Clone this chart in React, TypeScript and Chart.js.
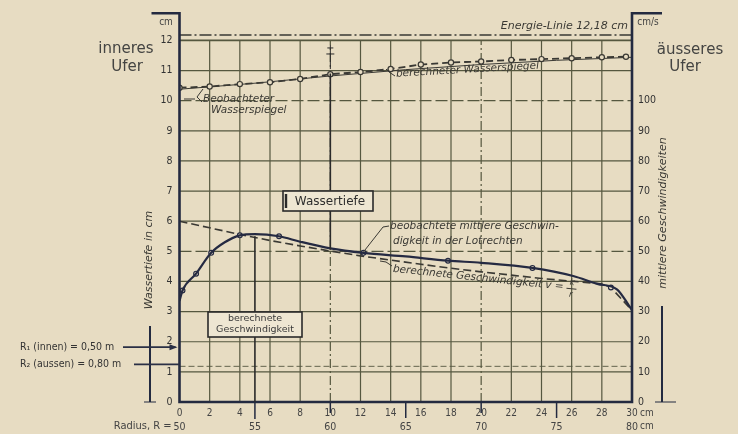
import React, { useEffect, useRef } from "react";
import { Chart, registerables } from "chart.js";

Chart.register(...registerables);

// ---------- data ----------
const xTickValues = [0, 2, 4, 6, 8, 10, 12, 14, 16, 18, 20, 22, 24, 26, 28, 30];
const radiusTickValues = [0, 5, 10, 15, 20, 25, 30];
const radiusTickLabels = ["50", "55", "60", "65", "70", "75", "80"];
const depthTickMax = 12;
const velocityTickMax = 100;

// observed water surface (cm)
const surfObsX = [0, 2, 4, 6, 8, 10, 12, 14, 16, 18, 20, 22, 24, 26, 28, 29.6];
const surfObsY = [10.43, 10.47, 10.55, 10.61, 10.72, 10.88, 10.95, 11.05, 11.2, 11.27, 11.3, 11.35, 11.38, 11.41, 11.44, 11.46];
// calculated water surface (cm)
const surfCalcX = [0, 5, 10, 15, 20, 25, 30];
const surfCalcY = [10.38, 10.58, 10.82, 11.03, 11.2, 11.34, 11.44];
// energy line (cm)
const energyX = [0, 30];
const energyY = [12.18, 12.18];

// observed mean velocity in the vertical (cm/s)
const velObsX = [0, 0.2, 1.1, 2.1, 3, 4, 5, 6.6, 8, 10, 12.2, 15, 17.8, 20, 23.4, 26.1, 27.7, 29, 29.8, 30];
const velObsY = [33.5, 37, 42.6, 49.5, 53, 55.3, 55.7, 55.0, 53.2, 51.0, 49.5, 48.3, 46.9, 46.2, 44.5, 41.8, 39.2, 37.4, 32, 30.5];
const velMarkX = [0.2, 1.1, 2.1, 4, 6.6, 12.2, 17.8, 23.4, 28.6];
const velMarkY = [37, 42.6, 49.5, 55.3, 55.0, 49.5, 46.9, 44.5, 38.0];
// calculated velocity v = k/r (cm/s)
const velCalcX = [0, 2, 4, 6, 8, 10, 12, 14, 16, 18, 20, 22, 24, 26, 28, 28.6, 29.8];
const velCalcY = [60, 57.8, 55.6, 53.6, 51.8, 50.1, 48.5, 47.1, 45.7, 44.4, 43.2, 42.1, 41.0, 40.1, 39.2, 38.0, 31.5];

const r1Level = 1.82;
const r2Level = 1.25;

// ---------- style ----------
const BG = "#e7dcc2";
const INK = "#3a3934";
const GRID = "#55573f";
const AXIS = "#232a40";
const FONT = "'DejaVu Sans Condensed', 'Liberation Sans Narrow', 'DejaVu Sans', sans-serif";
const WIDE = "'DejaVu Sans', 'Liberation Sans', sans-serif";

const pts = (xs: number[], ys: number[]) => xs.map((x, i) => ({ x, y: ys[i] }));

const decor = {
  id: "decor",
  beforeDraw(chart: any) {
    const c = chart.ctx;
    c.save();
    c.fillStyle = BG;
    c.fillRect(0, 0, chart.width, chart.height);
    c.restore();
  },
  beforeDatasetsDraw(chart: any) {
    const c = chart.ctx;
    const xs = chart.scales.x;
    const ys = chart.scales.y;
    const X = (v: number) => xs.getPixelForValue(v);
    const Y = (v: number) => ys.getPixelForValue(v);
    c.save();
    c.strokeStyle = GRID;
    for (let v = 2; v < 30; v += 2) {
      c.lineWidth = 1.2;
      c.setLineDash(v === 10 || v === 20 ? [9, 3, 2, 3] : []);
      c.beginPath();
      c.moveTo(X(v), Y(0));
      c.lineTo(X(v), Y(12));
      c.stroke();
    }
    for (let v = 1; v <= 12; v++) {
      c.lineWidth = v === 12 ? 1.8 : 1.2;
      c.setLineDash(v === 5 || v === 10 ? [12, 4] : []);
      c.beginPath();
      c.moveTo(X(0), Y(v));
      c.lineTo(X(30), Y(v));
      c.stroke();
    }
    c.setLineDash([6, 3]);
    c.lineWidth = 0.9;
    c.beginPath();
    c.moveTo(X(0), Y(r2Level) + 2);
    c.lineTo(X(30), Y(r2Level) + 2);
    c.stroke();
    c.restore();
  },
  afterDatasetsDraw(chart: any) {
    const c = chart.ctx;
    const xs = chart.scales.x;
    const ys = chart.scales.y;
    const X = (v: number) => xs.getPixelForValue(v);
    const Y = (v: number) => ys.getPixelForValue(v);
    const area = chart.chartArea;
    c.save();
    c.setLineDash([]);
    // axes
    c.strokeStyle = AXIS;
    c.lineWidth = 2.6;
    c.beginPath();
    c.moveTo(X(0) - 28, area.top);
    c.lineTo(X(0), area.top);
    c.lineTo(X(0), Y(0));
    c.lineTo(X(30), Y(0));
    c.lineTo(X(30), area.top);
    c.lineTo(X(30) + 30, area.top);
    c.stroke();

    // ticks below axis
    c.lineWidth = 1.5;
    [[5, 17], [10, 11], [15, 16], [20, 11], [25, 16]].forEach(([v, len]) => {
      c.beginPath();
      c.moveTo(X(v), Y(0));
      c.lineTo(X(v), Y(0) + len);
      c.stroke();
    });

    // connectors
    c.lineWidth = 1.6;
    c.strokeStyle = "#2a2a2a";
    c.beginPath();
    c.moveTo(X(10), 190);
    c.lineTo(X(10), Y(10.9));
    c.moveTo(X(10), 211);
    c.lineTo(X(10), Y(5.05));
    c.stroke();
    c.beginPath();
    c.moveTo(X(5), Y(5.5));
    c.lineTo(X(5), 312);
    c.moveTo(X(5), 337);
    c.lineTo(X(5), Y(0));
    c.stroke();

    // small error bar at x=10 near the top
    c.lineWidth = 1;
    c.beginPath();
    c.moveTo(X(10) - 4, Y(11.55));
    c.lineTo(X(10) + 4, Y(11.55));
    c.moveTo(X(10) - 3, Y(11.75));
    c.lineTo(X(10) + 3, Y(11.75));
    c.moveTo(X(10), Y(11.85));
    c.lineTo(X(10), Y(11.05));
    c.stroke();

    // boxes
    const box = (x: number, y: number, w: number, h: number) => {
      c.fillStyle = "#eee6d2";
      c.fillRect(x, y, w, h);
      c.lineWidth = 1.6;
      c.strokeStyle = "#2a2a2a";
      c.strokeRect(x, y, w, h);
    };
    box(283, 191, 90, 20);
    c.fillStyle = "#2e2e2e";
    c.font = `12px ${WIDE}`;
    c.textAlign = "center";
    c.textBaseline = "middle";
    c.fillText("Wassertiefe", 330, 201.5);
    c.lineWidth = 2.4;
    c.beginPath();
    c.moveTo(286, 194);
    c.lineTo(286, 208);
    c.stroke();

    box(208, 312, 94, 25);
    c.fillStyle = "#3a3a3a";
    c.font = `9.5px ${WIDE}`;
    c.fillText("berechnete", 255, 319);
    c.fillText("Geschwindigkeit", 255, 330);

    // italic annotations
    c.fillStyle = INK;
    c.font = `italic 11px ${WIDE}`;
    c.textAlign = "right";
    c.fillText("Energie-Linie 12,18 cm", 628, 26);

    c.textAlign = "left";
    c.font = `italic 10.5px ${WIDE}`;
    c.fillText("beobachtete mittlere Geschwin-", 390, 226);
    c.fillText("digkeit in der Lotrechten", 393, 241);
    c.strokeStyle = INK;
    c.lineWidth = 1;
    c.beginPath();
    c.moveTo(389, 226);
    c.lineTo(383, 227);
    c.lineTo(X(12.2), Y(4.95) - 1);
    c.stroke();

    c.font = `italic 10.5px ${WIDE}`;
    c.fillText("Beobachteter", 203, 99);
    c.fillText("Wasserspiegel", 211, 110);
    c.beginPath();
    c.moveTo(184, 99);
    c.lineTo(195, 99);
    c.moveTo(202, 102);
    c.lineTo(197, 97);
    c.lineTo(203, 89);
    c.stroke();

    c.save();
    c.translate(396, 74);
    c.rotate((-3.3 * Math.PI) / 180);
    c.font = `italic 10.5px ${WIDE}`;
    c.fillText("berechneter Wasserspiegel", 0, 0);
    c.restore();
    c.beginPath();
    c.moveTo(395, 76);
    c.lineTo(389, 72);
    c.lineTo(386, 69);
    c.stroke();

    c.save();
    c.translate(393, 269);
    c.rotate((6 * Math.PI) / 180);
    c.font = `italic 10.5px ${WIDE}`;
    const t = "berechnete Geschwindigkeit v =";
    c.fillText(t, 0, 0);
    const w = c.measureText(t).width;
    c.font = `italic 8.5px ${WIDE}`;
    c.textAlign = "center";
    c.fillText("k", w + 8, -5);
    c.fillText("r", w + 8, 7);
    c.beginPath();
    c.moveTo(w + 3, 1);
    c.lineTo(w + 13, 1);
    c.stroke();
    c.restore();
    c.beginPath();
    c.moveTo(392, 266);
    c.lineTo(386, 262);
    c.lineTo(380, 261);
    c.stroke();

    // unit labels
    c.textAlign = "center";
    c.textBaseline = "middle";
    c.fillStyle = "#444";
    c.font = `10px ${FONT}`;
    c.fillText("cm", 166, 22);
    c.fillText("cm/s", 648, 22);
    c.textAlign = "left";
    c.fillText("cm", X(30) + 8, 413);
    c.fillText("cm", X(30) + 8, 426);
    c.textAlign = "right";
    c.font = `11px ${FONT}`;
    c.fillText("Radius, R =", X(0) - 8, 426);

    // bank labels
    c.fillStyle = "#444442";
    c.font = `15px ${WIDE}`;
    c.textAlign = "center";
    c.fillText("inneres", 126, 49);
    c.fillText("Ufer", 127, 67);
    c.fillText("äusseres", 690, 50);
    c.fillText("Ufer", 685, 67);

    // vertical axis titles
    c.fillStyle = INK;
    c.font = `italic 11px ${WIDE}`;
    c.save();
    c.translate(149, 260);
    c.rotate(-Math.PI / 2);
    c.fillText("Wassertiefe in cm", 0, 0);
    c.restore();
    c.save();
    c.translate(663, 213);
    c.rotate(-Math.PI / 2);
    c.fillText("mittlere Geschwindigkeiten", 0, 0);
    c.restore();
    c.strokeStyle = AXIS;
    c.lineWidth = 2;
    c.beginPath();
    c.moveTo(150, 326);
    c.lineTo(150, Y(0));
    c.moveTo(662, 306);
    c.lineTo(662, Y(0));
    c.stroke();
    c.lineWidth = 1;
    c.beginPath();
    c.moveTo(144, Y(0));
    c.lineTo(156, Y(0));
    c.moveTo(655, Y(0));
    c.lineTo(676, Y(0));
    c.stroke();

    // R1 / R2 annotations
    c.fillStyle = "#333";
    c.font = `10.5px ${FONT}`;
    c.textAlign = "left";
    c.fillText("R\u2081 (innen) = 0,50 m", 20, Y(r1Level));
    c.fillText("R\u2082 (aussen) = 0,80 m", 20, Y(r2Level));
    c.strokeStyle = "#2a2f45";
    c.lineWidth = 1.8;
    c.beginPath();
    c.moveTo(123, Y(r1Level));
    c.lineTo(X(0) - 4, Y(r1Level));
    c.moveTo(134, Y(r2Level));
    c.lineTo(X(0), Y(r2Level));
    c.stroke();
    c.fillStyle = "#2a2f45";
    c.beginPath();
    c.moveTo(X(0) - 2, Y(r1Level));
    c.lineTo(X(0) - 10, Y(r1Level) - 3);
    c.lineTo(X(0) - 10, Y(r1Level) + 3);
    c.closePath();
    c.fill();
    c.restore();
  },
};

export default function App() {
  const ref = useRef<HTMLCanvasElement | null>(null);
  useEffect(() => {
    document.body.style.margin = "0";
    document.body.style.background = BG;
    if (!ref.current) return;
    const tickFont = { family: FONT, size: 10.5 };
    const noGrid = { display: false, drawTicks: false, tickLength: 0 };
    const chart = new Chart(ref.current, {
      type: "line",
      data: {
        datasets: [
          {
            label: "beobachteter Wasserspiegel",
            data: pts(surfObsX, surfObsY),
            xAxisID: "x",
            yAxisID: "y",
            borderColor: INK,
            borderWidth: 1.8,
            borderDash: [7, 4],
            pointRadius: 2.6,
            pointBackgroundColor: BG,
            pointBorderColor: INK,
            pointBorderWidth: 1.2,
          },
          {
            label: "berechneter Wasserspiegel",
            data: pts(surfCalcX, surfCalcY),
            xAxisID: "x",
            yAxisID: "y",
            borderColor: INK,
            borderWidth: 1,
            pointRadius: 0,
          },
          {
            label: "Energie-Linie",
            data: pts(energyX, energyY),
            xAxisID: "x",
            yAxisID: "y",
            borderColor: INK,
            borderWidth: 1.6,
            borderDash: [12, 3, 2, 3],
            pointRadius: 0,
          },
          {
            label: "beobachtete mittlere Geschwindigkeit",
            data: pts(velObsX, velObsY),
            xAxisID: "x",
            yAxisID: "y1",
            borderColor: "#252a42",
            borderWidth: 2.2,
            pointRadius: 0,
            cubicInterpolationMode: "monotone",
          },
          {
            label: "Messpunkte",
            data: pts(velMarkX, velMarkY),
            xAxisID: "x",
            yAxisID: "y1",
            showLine: false,
            pointRadius: 2.4,
            pointBackgroundColor: BG,
            pointBorderColor: "#252a42",
            pointBorderWidth: 1.2,
          },
          {
            label: "berechnete Geschwindigkeit v = k/r",
            data: pts(velCalcX, velCalcY),
            xAxisID: "x",
            yAxisID: "y1",
            borderColor: INK,
            borderWidth: 1.6,
            borderDash: [8, 4],
            pointRadius: 0,
          },
        ],
      },
      options: {
        animation: false,
        responsive: false,
        devicePixelRatio: 1,
        layout: { padding: { top: 12.7, left: 0, right: 0, bottom: 0 } },
        plugins: { legend: { display: false }, tooltip: { enabled: false } },
        scales: {
          x: {
            type: "linear",
            position: "bottom",
            min: 0,
            max: 30,
            weight: 0,
            grid: noGrid,
            border: { display: false },
            afterBuildTicks: (s: any) => {
              s.ticks = xTickValues.map((v) => ({ value: v }));
            },
            afterFit: (s: any) => {
              s.height = 16;
            },
            ticks: { font: { family: FONT, size: 10 }, color: "#444", padding: 5, maxRotation: 0, autoSkip: false },
          },
          x2: {
            type: "linear",
            position: "bottom",
            min: 0,
            max: 30,
            weight: 1,
            grid: noGrid,
            border: { display: false },
            afterBuildTicks: (s: any) => {
              s.ticks = radiusTickValues.map((v) => ({ value: v }));
            },
            afterFit: (s: any) => {
              s.height = 16;
            },
            ticks: {
              font: { family: FONT, size: 10.5 },
              color: "#444",
              padding: 3,
              maxRotation: 0,
              autoSkip: false,
              callback: (v: any) => radiusTickLabels[radiusTickValues.indexOf(Number(v))] ?? "",
            },
          },
          y: {
            type: "linear",
            position: "left",
            min: 0,
            max: 12.9,
            grid: noGrid,
            border: { display: false },
            afterBuildTicks: (s: any) => {
              const t = [];
              for (let v = 0; v <= depthTickMax; v++) t.push({ value: v });
              s.ticks = t;
            },
            afterFit: (s: any) => {
              s.width = 179.5;
            },
            ticks: { font: tickFont, color: "#333", padding: 7 },
          },
          y1: {
            type: "linear",
            position: "right",
            min: 0,
            max: 129,
            grid: noGrid,
            border: { display: false },
            afterBuildTicks: (s: any) => {
              const t = [];
              for (let v = 0; v <= velocityTickMax; v += 10) t.push({ value: v });
              s.ticks = t;
            },
            afterFit: (s: any) => {
              s.width = 106;
            },
            ticks: { font: tickFont, color: "#333", padding: 6 },
          },
        },
      } as any,
      plugins: [decor],
    });
    return () => chart.destroy();
  }, []);
  return (
    <div style={{ width: 738, height: 434, background: BG }}>
      <canvas ref={ref} width={738} height={434} style={{ display: "block" }} />
    </div>
  );
}
